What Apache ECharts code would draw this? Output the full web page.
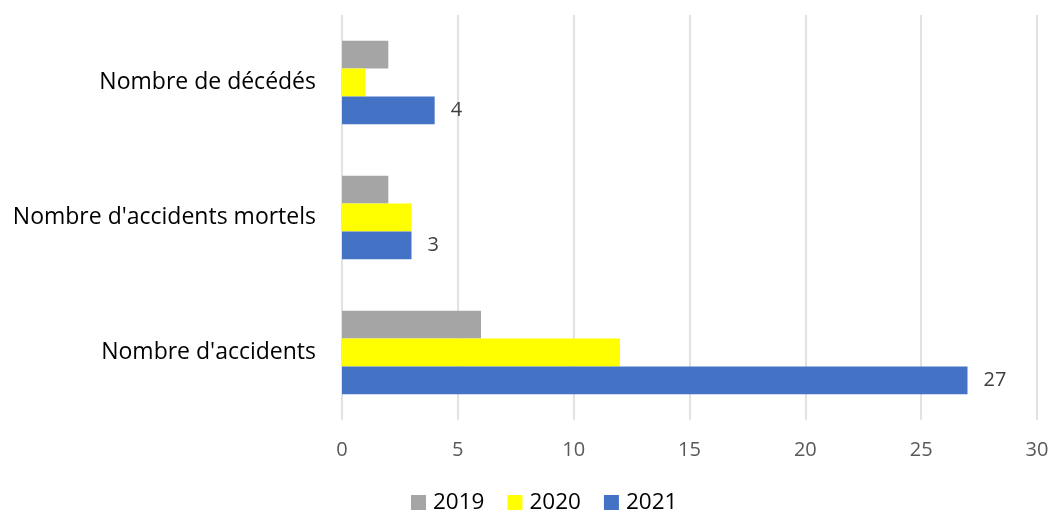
<!DOCTYPE html>
<html><head><meta charset="utf-8">
<script src="https://cdn.jsdelivr.net/npm/echarts@6/dist/echarts.min.js"></script>
<style>html,body{margin:0;padding:0;background:#fff}#c{width:1054px;height:518px}</style>
</head><body><div id="c"></div>
<script>
const categories = ["Nombre d'accidents", "Nombre d'accidents mortels", "Nombre de décédés"];
const seriesNames = ["2019", "2020", "2021"];
const values2019 = [6, 2, 2];
const values2020 = [12, 3, 1];
const values2021 = [27, 3, 4];
const xTicks = [0, 5, 10, 15, 20, 25, 30];
const colors = ["#A5A5A5", "#FFFF00", "#4472C4"];
const font = "'Open Sans', sans-serif";

const chart = echarts.init(document.getElementById('c'));
const data = [values2019, values2020, values2021];
chart.setOption({
  animation: false,
  grid: {left: 342, right: 17, top: 15, bottom: 98, containLabel: false},
  legend: {
    bottom: -1, left: 406, itemWidth: 15, itemHeight: 15, itemGap: 23,
    icon: 'rect',
    textStyle: {fontFamily: font, fontSize: 22.5, color: '#000', padding: [0, 0, 0, 2]},
    data: seriesNames
  },
  xAxis: {
    type: 'value', min: xTicks[0], max: xTicks[xTicks.length-1], interval: 5,
    axisLine: {show: false}, axisTick: {show: false},
    splitLine: {lineStyle: {color: '#d9d9d9', width: 1.5}},
    axisLabel: {fontFamily: font, fontSize: 20, color: '#595959', margin: 20}
  },
  yAxis: {
    type: 'category', data: categories,
    axisLine: {show: false}, axisTick: {show: false},
    axisLabel: {fontFamily: font, fontSize: 23, color: '#000', margin: 26}
  },
  series: seriesNames.map((n, i) => ({
    name: n, type: 'bar', data: data[i],
    barCategoryGap: '38%', barGap: '0%',
    itemStyle: {color: colors[i]},
    label: i === 2 ? {show: true, position: 'right', distance: 16, fontFamily: font, fontSize: 20, color: '#404040'} : {show: false}
  }))
});
</script></body></html>
